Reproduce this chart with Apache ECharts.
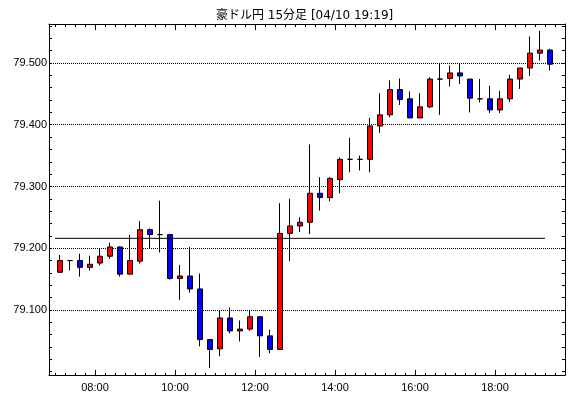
<!DOCTYPE html>
<html><head><meta charset="utf-8">
<script src="https://cdn.jsdelivr.net/npm/echarts@6/dist/echarts.min.js"></script>
<style>html,body{margin:0;padding:0;background:#fff}#c{width:570px;height:398px}</style>
</head><body><div id="c"></div>
<script>
// ---- data ----
const chartTitle = '豪ドル円 15分足 [04/10 19:19]';
const times = ['07:00','07:15','07:30','07:45','08:00','08:15','08:30','08:45','09:00','09:15',
  '09:30','09:45','10:00','10:15','10:30','10:45','11:00','11:15','11:30','11:45',
  '12:00','12:15','12:30','12:45','13:00','13:15','13:30','13:45','14:00','14:15',
  '14:30','14:45','15:00','15:15','15:30','15:45','16:00','16:15','16:30','16:45',
  '17:00','17:15','17:30','17:45','18:00','18:15','18:30','18:45','19:00','19:15'];
const opens = [79.161,79.180,79.180,79.169,79.176,79.187,79.202,79.158,79.179,79.230,
  79.222,79.222,79.151,79.155,79.134,79.052,79.037,79.087,79.066,79.069,
  79.089,79.058,79.036,79.224,79.236,79.242,79.289,79.282,79.311,79.344,
  79.344,79.344,79.398,79.416,79.457,79.442,79.411,79.429,79.474,79.475,
  79.484,79.474,79.442,79.442,79.424,79.442,79.474,79.492,79.516,79.521];
const closes = [79.180,79.180,79.169,79.174,79.187,79.202,79.158,79.180,79.230,79.222,
  79.222,79.151,79.155,79.134,79.052,79.036,79.087,79.066,79.069,79.089,
  79.058,79.036,79.224,79.236,79.242,79.289,79.282,79.313,79.344,79.344,
  79.344,79.398,79.416,79.457,79.441,79.411,79.429,79.474,79.474,79.484,
  79.479,79.443,79.442,79.424,79.442,79.474,79.492,79.516,79.521,79.498];
const lows = [79.160,79.164,79.154,79.164,79.172,79.183,79.154,79.158,79.175,79.199,
  79.193,79.149,79.116,79.128,79.041,79.006,79.025,79.062,79.049,79.066,
  79.024,79.030,79.036,79.179,79.226,79.223,79.261,79.276,79.289,79.323,
  79.326,79.323,79.387,79.412,79.432,79.411,79.411,79.427,79.416,79.462,
  79.466,79.420,79.436,79.419,79.419,79.437,79.458,79.479,79.504,79.488];
const highs = [79.189,79.181,79.191,79.188,79.199,79.209,79.203,79.222,79.244,79.232,
  79.277,79.222,79.173,79.202,79.159,79.053,79.100,79.104,79.083,79.100,
  79.089,79.068,79.273,79.280,79.250,79.368,79.315,79.315,79.347,79.379,
  79.350,79.411,79.451,79.472,79.475,79.454,79.451,79.477,79.500,79.496,
  79.500,79.474,79.474,79.463,79.455,79.481,79.492,79.543,79.552,79.523];
const refLevel = 79.216;
const refFrom = '07:00';
const refTo = '19:15';
const yTickLabels = ['79.100','79.200','79.300','79.400','79.500'];
const xTickLabels = ['08:00','10:00','12:00','14:00','16:00','18:00'];

// ---- helpers / layout ----
function toMin(t){ const p = t.split(':'); return (+p[0]) * 60 + (+p[1]); }
function fmtMin(m){ const h = Math.floor(m / 60), mm = Math.round(m % 60); return (h < 10 ? '0' : '') + h + ':' + (mm < 10 ? '0' : '') + mm; }
const L = 49, R = 565, T = 24, B = 375;
const xMin = 411, xMax = 1185;
const yMin = 78.9946, yMax = 79.5632;
function yPix(v){ return B - (v - yMin) / (yMax - yMin) * (B - T); }
function xPix(m){ return L + (m - xMin) / (xMax - xMin) * (R - L); }
const firstTick = toMin(times[0]);
const firstMajor = toMin(xTickLabels[0]);
const yMajMin = +yTickLabels[0], yMajMax = +yTickLabels[yTickLabels.length - 1];
const yMinorMin = 79.0, yMinorMax = 79.56;

const FONT = "'Liberation Sans', Arial, sans-serif";
const off = {show:false};
function hiddenX(g){ return {type:'value', gridIndex:g, show:false, min:0, max:1}; }
function hiddenY(g){ return {type:'value', gridIndex:g, show:false, min:0, max:1}; }
const frameLine = {show:true, onZero:false, lineStyle:{color:'#000', width:1}};

const candleData = times.map((t, i) => [toMin(t) + 7.5, opens[i], closes[i], lows[i], highs[i]]);

const option = {
  animation: false,
  backgroundColor: '#fff',
  title: {
    text: chartTitle, left: 216, top: 10, padding: 0,
    textStyle: {fontSize: 12, fontWeight: 'normal', color: '#000', fontFamily: "'DejaVu Sans', 'Noto Sans CJK JP', sans-serif"}
  },
  grid: [
    {left: L, top: T, width: R - L, height: B - T},
    {left: xPix(firstTick), top: T, width: R - xPix(firstTick), height: B - T},
    {left: xPix(firstMajor), top: T, width: R - xPix(firstMajor), height: B - T},
    {left: L, top: yPix(yMinorMax), width: R - L, height: yPix(yMinorMin) - yPix(yMinorMax)},
    {left: L, top: yPix(yMajMax), width: R - L, height: yPix(yMajMin) - yPix(yMajMax)}
  ],
  xAxis: [
    {type:'value', gridIndex:0, position:'bottom', min:xMin, max:xMax, axisLine:frameLine, axisTick:off, axisLabel:off, splitLine:off},
    {type:'value', gridIndex:0, position:'top', min:xMin, max:xMax, axisLine:frameLine, axisTick:off, axisLabel:off, splitLine:off},
    {type:'value', gridIndex:1, position:'bottom', min:firstTick, max:xMax, interval:15, axisLine:{show:false, onZero:false},
      axisTick:{show:true, inside:true, length:2, lineStyle:{color:'#000'}}, axisLabel:off, splitLine:off},
    {type:'value', gridIndex:1, position:'top', min:firstTick, max:xMax, interval:15, axisLine:{show:false, onZero:false},
      axisTick:{show:true, inside:true, length:3, lineStyle:{color:'#000'}}, axisLabel:off, splitLine:off},
    {type:'value', gridIndex:2, position:'bottom', min:firstMajor, max:xMax, interval:120, axisLine:{show:false, onZero:false},
      axisTick:{show:true, inside:true, length:5, lineStyle:{color:'#000'}},
      axisLabel:{show:true, margin:7, color:'#000', fontSize:11, fontFamily:FONT, showMaxLabel:false,
        formatter: v => { const s = fmtMin(v); return xTickLabels.indexOf(s) >= 0 ? s : ''; }},
      splitLine:off},
    {type:'value', gridIndex:2, position:'top', min:firstMajor, max:xMax, interval:120, axisLine:{show:false, onZero:false},
      axisTick:{show:true, inside:true, length:6, lineStyle:{color:'#000'}}, axisLabel:off, splitLine:off},
    hiddenX(3), hiddenX(4)
  ],
  yAxis: [
    {type:'value', gridIndex:0, position:'left', min:yMin, max:yMax, axisLine:frameLine, axisTick:off, axisLabel:off, splitLine:off},
    {type:'value', gridIndex:0, position:'right', min:yMin, max:yMax, axisLine:frameLine, axisTick:off, axisLabel:off, splitLine:off},
    hiddenY(1), hiddenY(2),
    {type:'value', gridIndex:3, position:'left', min:yMinorMin, max:yMinorMax, interval:0.02, axisLine:{show:false, onZero:false},
      axisTick:{show:true, inside:true, length:3, lineStyle:{color:'#000'}}, axisLabel:off, splitLine:off},
    {type:'value', gridIndex:3, position:'right', min:yMinorMin, max:yMinorMax, interval:0.02, axisLine:{show:false, onZero:false},
      axisTick:{show:true, inside:true, length:3, lineStyle:{color:'#000'}}, axisLabel:off, splitLine:off},
    {type:'value', gridIndex:4, position:'left', min:yMajMin, max:yMajMax, interval:0.1, axisLine:{show:false, onZero:false},
      axisTick:off,
      axisLabel:{show:true, margin:2, color:'#000', fontSize:11, fontFamily:FONT,
        formatter: v => { const s = (+v).toFixed(3); return yTickLabels.indexOf(s) >= 0 ? s : ''; }},
      splitLine:{show:true, lineStyle:{color:'#000', width:1, type:[1,1]}}}
  ],
  series: [
    {
      type: 'candlestick', xAxisIndex: 0, yAxisIndex: 0,
      data: candleData, encode: {x: 0, y: [1, 2, 3, 4]},
      barWidth: 6, silent: true,
      itemStyle: {color:'#ff0000', color0:'#0000ff', borderColor:'#000', borderColor0:'#000', borderColorDoji:'#000', borderWidth:1}
    },
    {
      type: 'line', xAxisIndex: 0, yAxisIndex: 0, silent: true,
      data: [[toMin(refFrom), refLevel], [toMin(refTo), refLevel]],
      symbol: 'none', lineStyle: {color:'#000', width:1}
    }
  ]
};
const chart = echarts.init(document.getElementById('c'), null, {renderer:'canvas'});
chart.setOption(option);
</script></body></html>
